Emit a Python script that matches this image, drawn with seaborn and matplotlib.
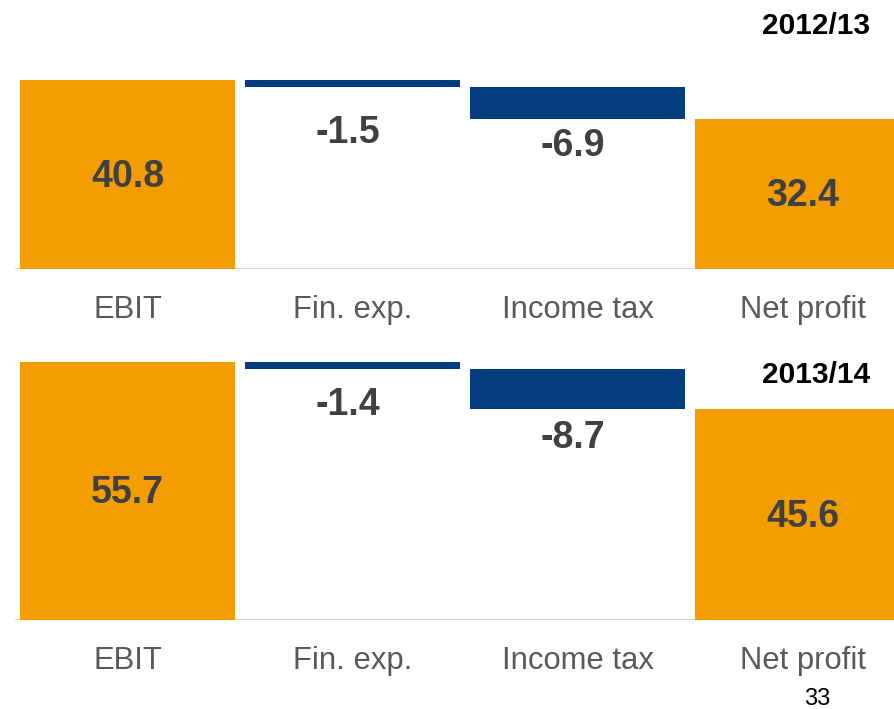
import matplotlib
matplotlib.use("Agg")
import matplotlib.pyplot as plt
import seaborn as sns
import pandas as pd
import numpy as np

# data ---------------------------------------------------------------
categories = ["EBIT", "Fin. exp.", "Income tax", "Net profit"]
years = ["2012/13", "2013/14"]
values_1213 = [40.8, -1.5, -6.9, 32.4]
values_1314 = [55.7, -1.4, -8.7, 45.6]
is_total = [True, False, False, True]

# style --------------------------------------------------------------
orange = "#F49D00"
blue = "#023E7F"
val_color = "#404040"
cat_color = "#595959"
sns.set_theme(style="white")
plt.rcParams["font.family"] = ["Liberation Sans", "DejaVu Sans"]

W, H = 895, 709
px_per_unit = 4.63
ylims = [45, 58]
baselines_px = [269, 620]  # from top of figure
# how far below a negative bar the label sits (pixels)
neg_offsets = [[46, 27], [36, 29]]

fig = plt.figure(figsize=(W / 100, H / 100), dpi=100)
left_px, right_px = 15, 896

for k, (yr, vals) in enumerate(zip(years, [values_1213, values_1314])):
    top_px = baselines_px[k] - ylims[k] * px_per_unit
    ax = fig.add_axes([left_px / W, 1 - baselines_px[k] / H,
                       (right_px - left_px) / W, (baselines_px[k] - top_px) / H])

    # waterfall: running level, bars float for deltas
    level = 0.0
    heights, bottoms = [], []
    for v, tot in zip(vals, is_total):
        if tot:
            heights.append(v)
            bottoms.append(0.0)
            level = v
        else:
            heights.append(abs(v))
            bottoms.append(level + v)
            level = level + v
    df = pd.DataFrame({"cat": categories, "h": heights, "b": bottoms})

    sns.barplot(data=df, x="cat", y="h", order=categories, bottom=df["b"].values,
                width=0.955, color=orange, saturation=1, ax=ax)
    for p, tot in zip(ax.patches, is_total):
        p.set_facecolor(orange if tot else blue)
        p.set_edgecolor("none")

    ax.axhline(0, color="#D9D9D9", lw=1.6, zorder=0)
    ax.set_xlim(-0.5, 3.415)
    ax.set_ylim(0, ylims[k])
    sns.despine(ax=ax, left=True, bottom=True)
    ax.set_yticks([])
    ax.set_xlabel("")
    ax.set_ylabel("")
    ax.tick_params(axis="x", length=0, pad=19, labelsize=22.3, labelcolor=cat_color)

    j = 0
    for i, (v, tot) in enumerate(zip(vals, is_total)):
        if tot:
            ax.annotate(f"{v:.1f}", (i, heights[i] / 2), xytext=(0, -1.5),
                        textcoords="offset points", ha="center", va="center",
                        fontsize=27, fontweight="bold", color=val_color)
        else:
            ax.annotate(f"{v:.1f}", (i - 0.02, bottoms[i]),
                        xytext=(0, -neg_offsets[k][j] * 0.72), textcoords="offset points",
                        ha="center", va="center", fontsize=27, fontweight="bold",
                        color=val_color)
            j += 1

fig.text(870 / W, 1 - 26 / H, years[0], ha="right", va="center",
         fontsize=21.5, fontweight="bold", color="black")
fig.text(870 / W, 1 - 375 / H, years[1], ha="right", va="center",
         fontsize=21.5, fontweight="bold", color="black")
fig.text(817 / W, 1 - 699 / H, "33", ha="center", va="center",
         fontsize=17, color="black")

fig.savefig("out.png", dpi=100)
